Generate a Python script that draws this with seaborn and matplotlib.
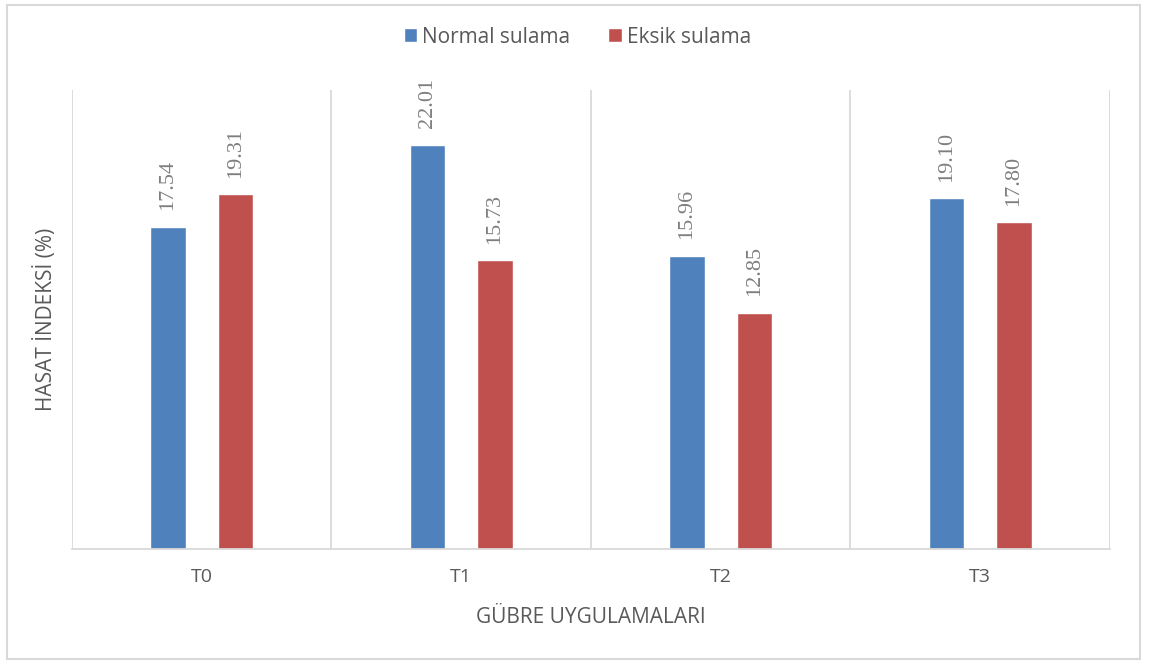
import pandas as pd
import matplotlib.pyplot as plt
import seaborn as sns
from matplotlib.patches import Rectangle

# veriler
treatments = ['T0', 'T1', 'T2', 'T3']
normal_sulama = [17.54, 22.01, 15.96, 19.10]
eksik_sulama = [19.31, 15.73, 12.85, 17.80]
series_names = ['Normal sulama', 'Eksik sulama']
colors = ['#4F81BD', '#C0504D']

df = pd.DataFrame({
    'treatment': treatments * 2,
    'value': normal_sulama + eksik_sulama,
    'series': [series_names[0]] * 4 + [series_names[1]] * 4,
})

sns.set_theme(style="white")
plt.rcParams['font.family'] = ['Open Sans', 'DejaVu Sans']
text_color = '#595959'
grid_color = '#d9d9d9'

fig = plt.figure(figsize=(11.5, 6.64), dpi=100)
ax = fig.add_axes([0.0626, 0.1732, 0.9026, 0.6913])

sns.barplot(data=df, x='treatment', y='value', hue='series', palette=colors,
            saturation=1, width=0.52, gap=0.47, ax=ax, legend=True)

# etiketler
for cont in ax.containers:
    ax.bar_label(cont, labels=[f'{v:.2f}' for v in cont.datavalues],
                 rotation=90, padding=12, fontsize=16, color='#7f7f7f',
                 family='Liberation Serif')

ax.set_ylim(0, 25)
ax.set_xlim(-0.5, 3.5)
ax.set_yticks([])
for x in [-0.5, 0.5, 1.5, 2.5, 3.5]:
    ax.axvline(x, color=grid_color, lw=1.3, zorder=0)
for s in ['top', 'left', 'right']:
    ax.spines[s].set_visible(False)
ax.spines['bottom'].set_color(grid_color)
ax.spines['bottom'].set_linewidth(1.3)

ax.tick_params(axis='x', length=0, pad=14, labelsize=14, labelcolor=text_color)
ax.set_xlabel('GÜBRE UYGULAMALARI', fontsize=15, color=text_color, labelpad=15)
ax.set_ylabel('HASAT İNDEKSİ (%)', fontsize=15, color=text_color, labelpad=11)

ax.legend_.remove()
handles = ax.containers
fig.legend([h.patches[0] for h in handles], series_names, loc='center',
           bbox_to_anchor=(0.502, 0.944), ncol=2, frameon=False, fontsize=15,
           labelcolor=text_color, handlelength=0.65, handleheight=0.65,
           handletextpad=0.25, columnspacing=1.8)

fig.patches.append(Rectangle((0.006, 0.008), 0.985, 0.984, transform=fig.transFigure,
                             fill=False, edgecolor=grid_color, lw=1.5))

fig.savefig('out.png', dpi=100)
